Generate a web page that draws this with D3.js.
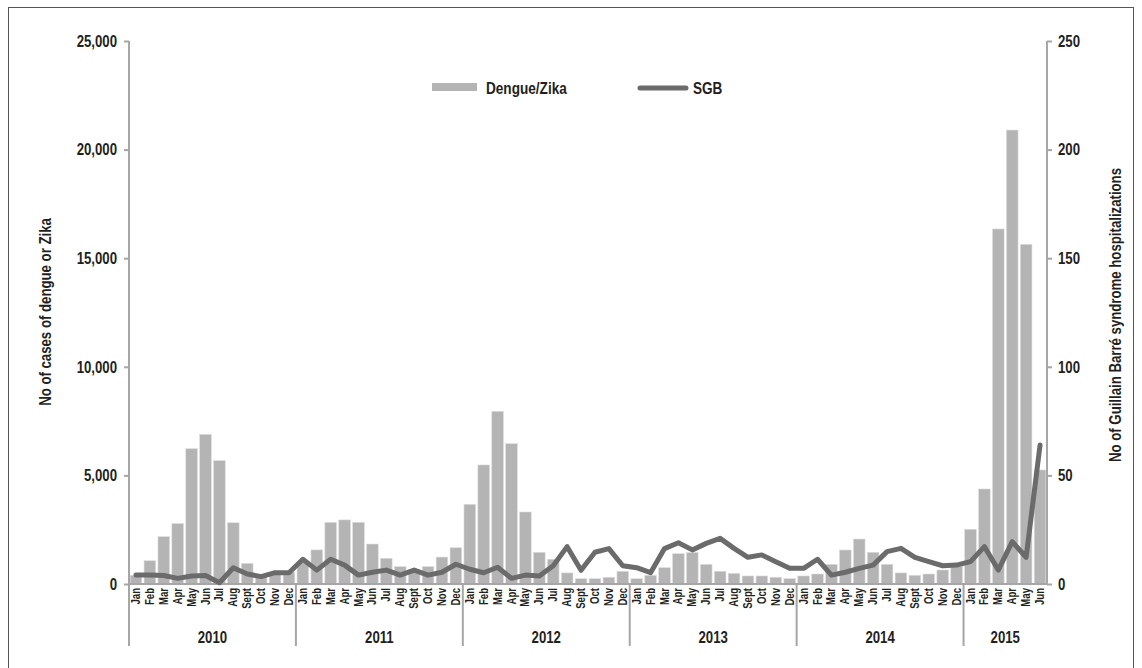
<!DOCTYPE html>
<html lang="en">
<head>
  <meta charset="utf-8">
  <title>Dengue/Zika and SGB</title>
  <script src="https://d3js.org/d3.v7.min.js"></script>
  <style>
    body { margin: 0; background: #fff; }
    svg text { font-family: "Liberation Sans", Arial, sans-serif; font-weight: bold; fill: #231f20; }
  </style>
</head>
<body>
<div id="chart"></div>
<script>
// labels
var years = ["2010", "2011", "2012", "2013", "2014", "2015"];
var months = ["Jan", "Feb", "Mar", "Apr", "May", "Jun", "Jul", "Aug", "Sept", "Oct", "Nov", "Dec"];
var monthsPerYear = [12, 12, 12, 12, 12, 6];

// monthly cases of dengue or zika, Jan 2010 - Jun 2015
var dengue = [
  400, 1070, 2180, 2780, 6230, 6890, 5680, 2820, 950, 300, 450, 550,
  1000, 1570, 2840, 2950, 2840, 1840, 1180, 800, 650, 800, 1240, 1670,
  3670, 5480, 7950, 6460, 3315, 1460, 1140, 510, 245, 245, 310, 585,
  245, 400, 750, 1395, 1450, 905, 585, 490, 370, 370, 310, 245,
  370, 460, 905, 1565, 2070, 1460, 905, 510, 400, 460, 645, 800,
  2520, 4375, 16345, 20900, 15640, 5250
];

// monthly Guillain Barre syndrome hospitalizations
var sgb = [
  4.1, 4.1, 3.9, 2.6, 3.7, 3.9, 0.6, 7.5, 4.6, 3.4, 5.2, 5.2,
  11.4, 6.4, 11.4, 8.7, 4.1, 5.4, 6.4, 4.1, 6.4, 4.1, 5.4, 9.1,
  6.8, 5.2, 7.7, 2.6, 4.1, 3.7, 8.4, 17.2, 6.3, 14.6, 16.3, 8.4,
  7.5, 5.2, 16.3, 19.0, 15.7, 18.7, 21.0, 16.4, 12.3, 13.4, 10.3, 7.2,
  7.2, 11.4, 4.1, 5.4, 7.2, 8.7, 14.9, 16.4, 12.3, 10.3, 8.4, 8.7,
  10.3, 17.2, 6.4, 19.5, 12.3, 64
];

var leftTicks = [0, 5000, 10000, 15000, 20000, 25000];
var rightTicks = [0, 50, 100, 150, 200, 250];

var W = 1142, H = 668;
var plot = {left: 129, right: 1047, top: 41, bottom: 584};
var axisGrey = "#a6a6a6";
var squeeze = 0.8;   // fake a condensed face by narrowing the glyphs

function condense(sel) {
  sel.each(function() {
    var t = d3.select(this);
    var tx = +t.attr("x") || 0;
    t.attr("x", tx / squeeze)
      .attr("transform", (t.attr("transform") || "") + " scale(" + squeeze + ",1)");
  });
}

var svg = d3.select("#chart").append("svg")
  .attr("width", W).attr("height", H);

// outer frame
svg.append("rect")
  .attr("x", 8.5).attr("y", 7.5)
  .attr("width", 1125).attr("height", 700)
  .attr("fill", "none").attr("stroke", "#555").attr("stroke-width", 1);

// month keys built from the labels
var monthKeys = [];
years.forEach(function(yr, i) {
  for (var m = 0; m < monthsPerYear[i]; m++) monthKeys.push(yr + "-" + m);
});

var x = d3.scaleBand()
  .domain(monthKeys)
  .range([plot.left, plot.right])
  .paddingInner(0.165)
  .paddingOuter(0.0825);

var yL = d3.scaleLinear().domain([0, 25000]).range([plot.bottom, plot.top]);
var yR = d3.scaleLinear().domain([0, 250]).range([plot.bottom, plot.top]);

// bars
svg.append("g").selectAll("rect")
  .data(dengue)
  .enter().append("rect")
    .attr("x", function(d, i) { return x(monthKeys[i]); })
    .attr("y", function(d) { return yL(d); })
    .attr("width", x.bandwidth())
    .attr("height", function(d) { return yL(0) - yL(d); })
    .attr("fill", "#b4b4b4")
    .attr("stroke", "#dcdcdc")
    .attr("stroke-width", 0.6);

// left axis
var gL = svg.append("g")
  .attr("transform", "translate(" + plot.left + ",0)")
  .call(d3.axisLeft(yL).tickValues(leftTicks).tickSize(5).tickPadding(7)
    .tickFormat(d3.format(",")));
gL.select(".domain").remove();
gL.selectAll("line").attr("stroke", axisGrey).attr("stroke-width", 2);
gL.selectAll("text").style("font-size", "16.5px").call(condense);

// right axis
var gR = svg.append("g")
  .attr("transform", "translate(" + plot.right + ",0)")
  .call(d3.axisRight(yR).tickValues(rightTicks).tickSize(5).tickPadding(6));
gR.select(".domain").remove();
gR.selectAll("line").attr("stroke", axisGrey).attr("stroke-width", 2);
gR.selectAll("text").style("font-size", "16.5px").call(condense);

// axis lines
svg.append("line")
  .attr("x1", plot.left).attr("x2", plot.left)
  .attr("y1", plot.top).attr("y2", 646)
  .attr("stroke", axisGrey).attr("stroke-width", 2);
svg.append("line")
  .attr("x1", plot.right).attr("x2", plot.right)
  .attr("y1", plot.top).attr("y2", plot.bottom)
  .attr("stroke", axisGrey).attr("stroke-width", 2);
svg.append("line")
  .attr("x1", plot.left).attr("x2", plot.right)
  .attr("y1", plot.bottom).attr("y2", plot.bottom)
  .attr("stroke", axisGrey).attr("stroke-width", 2);

// month labels
svg.append("g").selectAll("text")
  .data(monthKeys)
  .enter().append("text")
    .attr("transform", function(k) {
      return "translate(" + (x(k) + x.bandwidth() / 2 + 4) + "," + (plot.bottom + 4) + ") rotate(-90)";
    })
    .attr("text-anchor", "end")
    .style("font-size", "12px")
    .text(function(k) { return months[+k.split("-")[1]]; })
    .call(condense);

// year separators and labels
var start = 0;
years.forEach(function(yr, i) {
  var k0 = monthKeys[start], k1 = monthKeys[start + monthsPerYear[i] - 1];
  var x0 = x(k0) - x.step() * x.paddingInner() / 2;
  var x1 = x(k1) + x.bandwidth() + x.step() * x.paddingInner() / 2;
  if (i > 0) {
    svg.append("line")
      .attr("x1", x0).attr("x2", x0)
      .attr("y1", plot.bottom).attr("y2", 646)
      .attr("stroke", axisGrey).attr("stroke-width", 2);
  }
  svg.append("text")
    .attr("x", (x0 + x1) / 2).attr("y", 643)
    .attr("text-anchor", "middle")
    .style("font-size", "16.5px")
    .text(yr)
    .call(condense);
  start += monthsPerYear[i];
});

// SGB line
var line = d3.line()
  .x(function(d, i) { return x(monthKeys[i]) + x.bandwidth() / 2; })
  .y(function(d) { return yR(d); });
svg.append("path")
  .datum(sgb)
  .attr("d", line)
  .attr("fill", "none")
  .attr("stroke", "#6b6b6b")
  .attr("stroke-width", 5)
  .attr("stroke-linejoin", "round")
  .attr("stroke-linecap", "round");

// axis titles
svg.append("text")
  .attr("transform", "translate(51,312) rotate(-90)")
  .attr("text-anchor", "middle")
  .style("font-size", "16.5px")
  .text("No of cases of dengue or Zika")
  .call(condense);
svg.append("text")
  .attr("transform", "translate(1121,315) rotate(-90)")
  .attr("text-anchor", "middle")
  .style("font-size", "16.5px")
  .text("No of Guillain Barré syndrome hospitalizations")
  .call(condense);

// legend
svg.append("rect")
  .attr("x", 432).attr("y", 83).attr("width", 45).attr("height", 8)
  .attr("fill", "#b4b4b4");
svg.append("text")
  .attr("x", 486).attr("y", 94)
  .style("font-size", "17px")
  .text("Dengue/Zika")
  .call(condense);
svg.append("line")
  .attr("x1", 640).attr("x2", 686)
  .attr("y1", 88).attr("y2", 88)
  .attr("stroke", "#6b6b6b").attr("stroke-width", 5)
  .attr("stroke-linecap", "round");
svg.append("text")
  .attr("x", 693).attr("y", 94)
  .style("font-size", "17px")
  .text("SGB")
  .call(condense);
</script>
</body>
</html>
